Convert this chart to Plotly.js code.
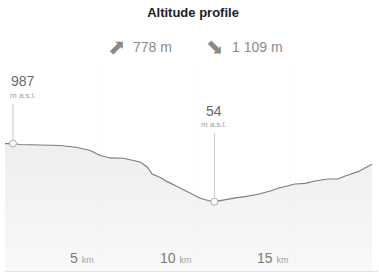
<!DOCTYPE html>
<html>
<head>
<meta charset="utf-8">
<script src="https://cdn.plot.ly/plotly-3.0.1.min.js"></script>
<style>html,body{margin:0;padding:0;background:#fff;}#chart{width:379px;height:279px;}</style>
</head>
<body>
<div id="chart"></div>
<script>
// Distance along route (km) and altitude (m a.s.l.)
var distKm = [0, 0.41, 0.79, 1.97, 2.85, 3.73, 4.40, 4.91, 5.43, 6.10, 6.46, 6.97, 7.34, 7.59, 8.01, 8.37, 8.88, 9.40, 10.07, 10.48, 10.80, 11.10, 11.61, 11.97, 12.39, 13.06, 13.68, 14.09, 14.96, 15.48, 15.99, 16.66, 17.18, 17.54, 18.21, 18.73, 18.93];
var altitude = [985, 987, 971, 968, 955, 923, 875, 795, 755, 750, 730, 690, 610, 498, 442, 375, 298, 214, 109, 73, 54, 70, 102, 118, 134, 173, 226, 269, 338, 349, 386, 418, 418, 466, 535, 631, 655];
var tickKm = [5, 10, 15];
var tickUnit = "km";
var chartTitle = "Altitude profile";
var ascentText = "778 m";
var descentText = "1 109 m";
var altUnit = "m a.s.l.";

var yMin = -1057, yMax = 2245;
var xMax = 19.24;

var iMax = altitude.indexOf(Math.max.apply(null, altitude));
var iMin = altitude.indexOf(Math.min.apply(null, altitude));

var FONT = "Liberation Sans, Arial, sans-serif";

var traces = [
  {x: distKm, y: distKm.map(function(){return yMin;}), mode: 'lines', line: {width: 0, color: 'rgba(0,0,0,0)'}, hoverinfo: 'skip', showlegend: false},
  {x: distKm, y: altitude, mode: 'lines', fill: 'tonexty',
   fillcolor: 'rgba(0,0,0,0.06)',
   fillgradient: {type: 'vertical', start: yMin, stop: Math.max.apply(null, altitude),
     colorscale: [[0, 'rgba(0,0,0,0.025)'], [1, 'rgba(0,0,0,0.065)']]},
   line: {color: '#7d7d7d', width: 1.2}, showlegend: false},
  {x: [distKm[iMax], distKm[iMin]], y: [altitude[iMax], altitude[iMin]], mode: 'markers',
   marker: {size: 7, color: '#ffffff', line: {color: '#aaaaaa', width: 1}}, showlegend: false}
];

var annotations = [];
// subtitle
annotations.push({xref: 'paper', yref: 'paper', x: (117 - 5) / 373, y: (271 - 47) / 206, xanchor: 'center', yanchor: 'middle',
  text: '⬈', showarrow: false, font: {family: 'DejaVu Sans', size: 21, color: '#8a8a8a'}});
annotations.push({xref: 'paper', yref: 'paper', x: (131 - 5) / 373, y: (271 - 47) / 206, xanchor: 'left', yanchor: 'middle',
  text: ascentText, showarrow: false, font: {family: FONT, size: 14, color: '#8a8a8a'}});
annotations.push({xref: 'paper', yref: 'paper', x: (215 - 5) / 373, y: (271 - 47) / 206, xanchor: 'center', yanchor: 'middle',
  text: '⬊', showarrow: false, font: {family: 'DejaVu Sans', size: 21, color: '#8a8a8a'}});
annotations.push({xref: 'paper', yref: 'paper', x: (230 - 5) / 373, y: (271 - 47) / 206, xanchor: 'left', yanchor: 'middle',
  text: descentText, showarrow: false, font: {family: FONT, size: 14, color: '#8a8a8a'}});

// x tick labels inside plot
tickKm.forEach(function(k){
  annotations.push({xref: 'x', yref: 'paper', x: k, y: (271 - 257.5) / 206, xanchor: 'right', yanchor: 'middle', xshift: -6,
    text: k + ' <span style="font-size:9px;color:#a0a0a0">' + tickUnit + '</span>', showarrow: false,
    font: {family: FONT, size: 14, color: '#7a7a7a'}});
});

// max / min labels
function peakLabel(i, lineLen, textShiftX) {
  annotations.push({xref: 'x', yref: 'y', x: distKm[i], y: altitude[i], text: '', showarrow: true, arrowhead: 0,
    arrowcolor: '#c8c8c8', arrowwidth: 1, ax: 0, ay: -lineLen, standoff: 3});
  annotations.push({xref: 'x', yref: 'y', x: distKm[i], y: altitude[i], xanchor: 'center', yanchor: 'middle',
    xshift: textShiftX, yshift: lineLen + 21, text: String(altitude[i]), showarrow: false,
    font: {family: FONT, size: 14, color: '#6a6a6a'}});
  annotations.push({xref: 'x', yref: 'y', x: distKm[i], y: altitude[i], xanchor: 'center', yanchor: 'middle',
    xshift: textShiftX, yshift: lineLen + 7, text: altUnit, showarrow: false,
    font: {family: FONT, size: 8, color: '#9a9a9a'}});
}
peakLabel(iMax, 41, 10);
peakLabel(iMin, 70, 0);

var layout = {
  width: 379, height: 279,
  margin: {l: 5, r: 1, t: 65, b: 8, pad: 0},
  paper_bgcolor: '#ffffff', plot_bgcolor: '#ffffff',
  title: {text: '<b>' + chartTitle + '</b>', x: 193 / 379, xref: 'container', xanchor: 'center',
    y: 1 - 12 / 279, yref: 'container', yanchor: 'middle', font: {family: FONT, size: 13, color: '#222222'}},
  xaxis: {range: [0, xMax], tickvals: tickKm, showticklabels: false, ticks: '', showgrid: true, gridcolor: '#fcfcfc', gridwidth: 1,
    zeroline: false, showline: true, linecolor: '#e2e2e2', linewidth: 1, fixedrange: true},
  yaxis: {range: [yMin, yMax], showgrid: false, zeroline: false, showticklabels: false, ticks: '', showline: false, fixedrange: true},
  annotations: annotations,
  showlegend: false,
  hovermode: false
};

Plotly.newPlot('chart', traces, layout, {staticPlot: true, displayModeBar: false});
</script>
</body>
</html>
